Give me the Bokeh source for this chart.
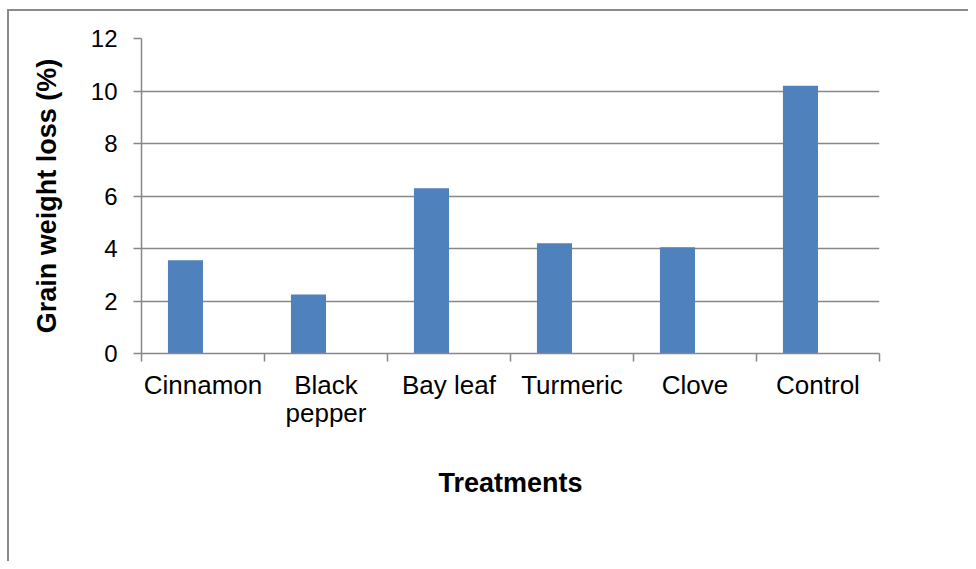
from bokeh.plotting import figure
from bokeh.models import FixedTicker, ColumnDataSource
from bokeh.embed import file_html
from bokeh.resources import INLINE

categories = ["Cinnamon", "Black\npepper", "Bay leaf", "Turmeric", "Clove", "Control"]
weight_loss = [3.55, 2.25, 6.3, 4.2, 4.05, 10.2]
y_ticks = [0, 2, 4, 6, 8, 10, 12]

bar_w = 0.285
centers = [i + 0.5 for i in range(len(categories))]
src = ColumnDataSource(dict(
    left=[c - bar_w for c in centers],
    right=centers,
    top=weight_loss,
    bottom=[0] * len(weight_loss),
))

FONT = "Liberation Sans"
GRAY = "#878787"
FRAME = "#8a8a8a"

frame_css = (f"linear-gradient({FRAME},{FRAME}) 7px 9px / 2px 100% no-repeat, "
             f"linear-gradient({FRAME},{FRAME}) 7px 9px / 100% 2px no-repeat, white")

p = figure(width=968, height=561, x_range=(0, len(categories)), y_range=(0, 12),
           output_backend="svg", toolbar_location=None,
           min_border_left=141, min_border_right=89, min_border_top=38, min_border_bottom=208,
           styles={"background": frame_css})
p.outline_line_color = None
p.background_fill_color = "white"
p.border_fill_color = None

p.quad(left="left", right="right", top="top", bottom="bottom", source=src,
       fill_color="#4F81BD", line_color=None)

# x axis
xa = p.xaxis[0]
xa.ticker = FixedTicker(ticks=centers, minor_ticks=list(range(len(categories) + 1)))
xa.major_label_overrides = {c: lab for c, lab in zip(centers, categories)}
xa.major_tick_out = 0
xa.major_tick_in = 0
xa.minor_tick_out = 8
xa.minor_tick_in = 0
xa.minor_tick_line_color = GRAY
xa.minor_tick_line_width = 1.5
xa.axis_line_color = GRAY
xa.axis_line_width = 1.5
xa.major_label_text_font = FONT
xa.major_label_text_font_size = "26px"
xa.major_label_text_color = "black"
xa.major_label_text_line_height = 0.95
xa.major_label_standoff = 8
xa.axis_label = "Treatments"
xa.axis_label_text_font = FONT
xa.axis_label_text_font_size = "27px"
xa.axis_label_text_font_style = "bold"
xa.axis_label_text_color = "black"
xa.axis_label_standoff = 37

# y axis
ya = p.yaxis[0]
ya.ticker = FixedTicker(ticks=y_ticks, minor_ticks=[])
ya.major_tick_out = 8
ya.major_tick_in = 0
ya.major_tick_line_color = GRAY
ya.major_tick_line_width = 1.5
ya.axis_line_color = GRAY
ya.axis_line_width = 1.5
ya.major_label_text_font = FONT
ya.major_label_text_font_size = "24px"
ya.major_label_text_color = "black"
ya.major_label_standoff = 16
ya.axis_label = "Grain weight loss (%)"
ya.axis_label_text_font = FONT
ya.axis_label_text_font_size = "27px"
ya.axis_label_text_font_style = "bold"
ya.axis_label_text_color = "black"
ya.axis_label_standoff = 26

p.xgrid.grid_line_color = None
p.ygrid.ticker = FixedTicker(ticks=y_ticks)
p.ygrid.grid_line_color = GRAY
p.ygrid.grid_line_width = 1.5

open("out.html", "w").write(file_html(p, INLINE))
